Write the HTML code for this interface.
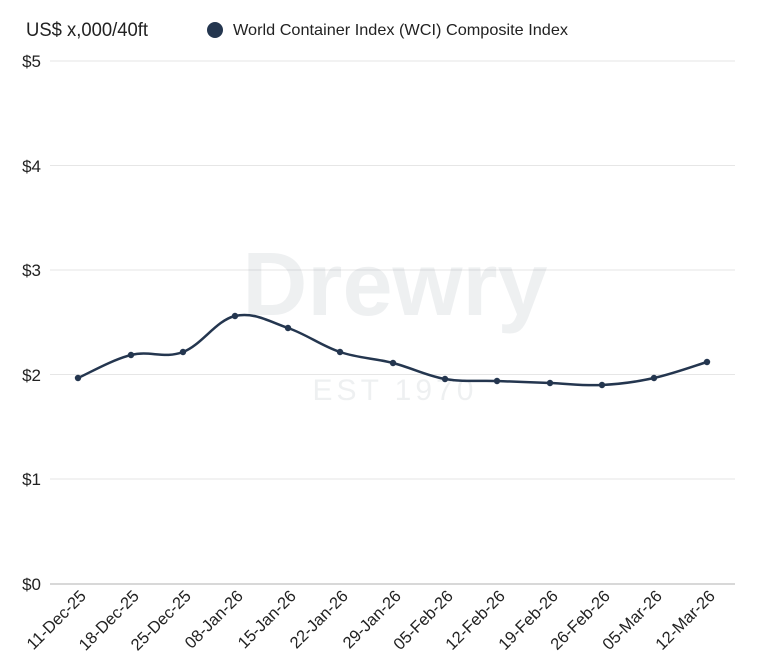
<!DOCTYPE html>
<html><head><meta charset="utf-8"><style>
body{margin:0;background:#fff;}
svg{display:block;font-family:"Liberation Sans",Arial,sans-serif;}
</style></head><body>
<svg id="s" width="766" height="670" viewBox="0 0 766 670" xmlns="http://www.w3.org/2000/svg">
<text x="26" y="36" font-size="19" fill="#222" textLength="122" lengthAdjust="spacingAndGlyphs">US$ x,000/40ft</text>
<circle cx="215" cy="30" r="8" fill="#24364f"/>
<text x="233" y="35" font-size="16" fill="#222" textLength="335" lengthAdjust="spacingAndGlyphs">World Container Index (WCI) Composite Index</text>
<g stroke="#e6e6e6" stroke-width="1">
<line x1="50" x2="735" y1="61" y2="61"/><line x1="50" x2="735" y1="165.5" y2="165.5"/>
<line x1="50" x2="735" y1="270" y2="270"/><line x1="50" x2="735" y1="374.5" y2="374.5"/>
<line x1="50" x2="735" y1="479" y2="479"/>
</g>
<line x1="50" x2="735" y1="584" y2="584" stroke="#ccc" stroke-width="1.5"/>
<g font-size="17" fill="#222" text-anchor="end">
<text x="41" y="67">$5</text><text x="41" y="172">$4</text><text x="41" y="276">$3</text>
<text x="41" y="381">$2</text><text x="41" y="485">$1</text><text x="41" y="590">$0</text>
</g>
<g opacity="0.07" fill="#24364f" text-anchor="middle">
<text x="395" y="315" font-size="90" font-weight="bold">Drewry</text>
<text x="395" y="400" font-size="30" letter-spacing="4">EST 1970</text>
</g>
<path id="ln" fill="none" stroke="#24364f" stroke-width="2.5"/>
<g id="pts" fill="#24364f"></g>
<g id="lbl" font-size="16.5" fill="#222" text-anchor="end"></g>
</svg>
<script>
var xs=[78,131,183,235,288,340,393,445,497,550,602,654,707];
var ys=[378,355,352,316,328,352,363,379,381,383,385,378,362];
var names=["11-Dec-25","18-Dec-25","25-Dec-25","08-Jan-26","15-Jan-26","22-Jan-26","29-Jan-26","05-Feb-26","12-Feb-26","19-Feb-26","26-Feb-26","05-Mar-26","12-Mar-26"];
var d="M"+xs[0]+","+ys[0];
for(var i=0;i<xs.length-1;i++){
 var p0=i?i-1:0,p3=i+2<xs.length?i+2:i+1,t=0.18;
 var c1x=xs[i]+(xs[i+1]-xs[p0])*t,c1y=ys[i]+(ys[i+1]-ys[p0])*t;
 var c2x=xs[i+1]-(xs[p3]-xs[i])*t,c2y=ys[i+1]-(ys[p3]-ys[i])*t;
 d+=" C"+c1x+","+c1y+" "+c2x+","+c2y+" "+xs[i+1]+","+ys[i+1];
}
document.getElementById("ln").setAttribute("d",d);
var ns="http://www.w3.org/2000/svg",P=document.getElementById("pts"),L=document.getElementById("lbl");
for(var i=0;i<xs.length;i++){
 var c=document.createElementNS(ns,"circle");c.setAttribute("cx",xs[i]);c.setAttribute("cy",ys[i]);c.setAttribute("r",3.2);P.appendChild(c);
 var t=document.createElementNS(ns,"text");t.setAttribute("transform","translate("+(xs[i]+9)+",597) rotate(-45)");t.textContent=names[i];L.appendChild(t);
}
</script>
</body></html>
